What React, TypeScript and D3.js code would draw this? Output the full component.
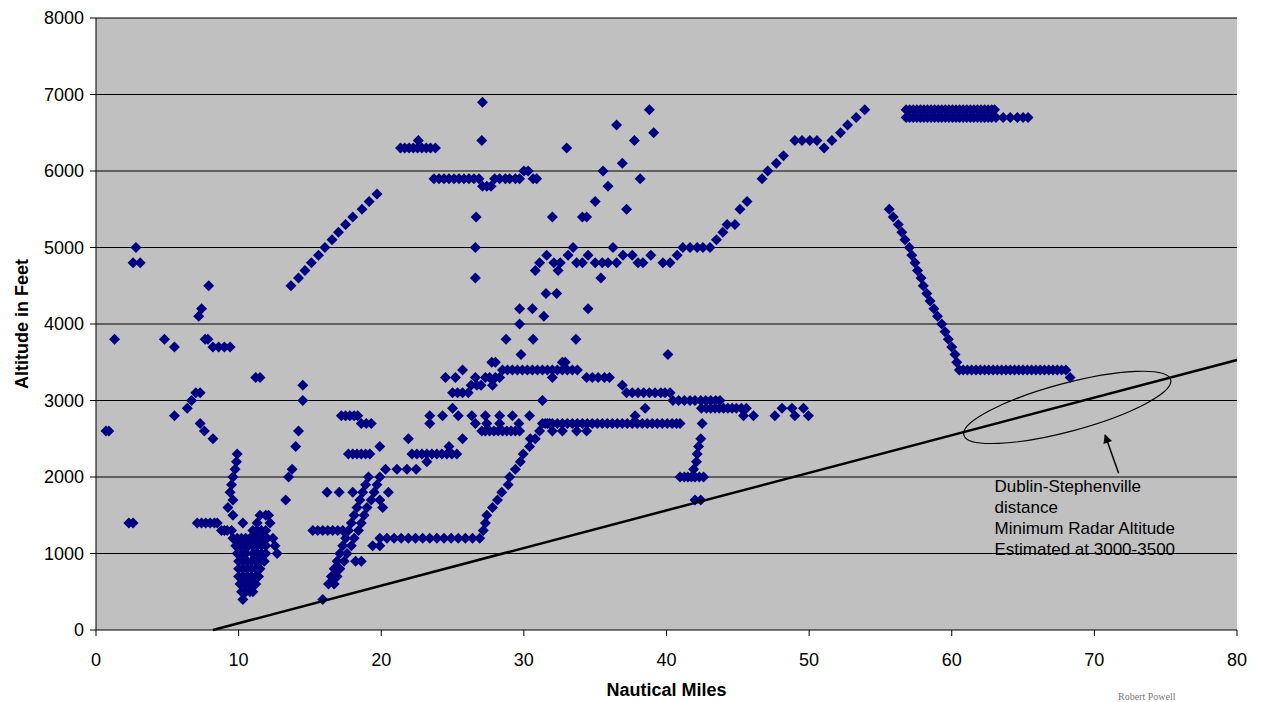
import React from "react";
import * as d3 from "d3";

type P = [number, number];

const xTicks = [0, 10, 20, 30, 40, 50, 60, 70, 80];
const yTicks = [0, 1000, 2000, 3000, 4000, 5000, 6000, 7000, 8000];

const westPoints: P[] = [
  [0.7, 2600], [0.9, 2600], [1.3, 3800], [2.3, 1400], [2.6, 1400], [2.6, 4800], [2.8, 5000], [3.1, 4800],
  [4.8, 3800], [5.5, 3700], [5.5, 2800], [6.4, 2900], [6.7, 3000], [7.0, 3100], [7.3, 3100], [7.3, 2700],
  [7.6, 2600], [8.2, 2500], [7.2, 4100], [7.4, 4200], [7.9, 4500], [7.65, 3800], [7.85, 3800], [8.2, 3700],
  [8.6, 3700], [9.0, 3700], [9.4, 3700], [11.2, 3300], [11.5, 3300],
  [9.9, 2300], [9.85, 2200], [9.75, 2100], [9.6, 2000], [9.5, 1900], [9.4, 1800], [9.6, 1700], [9.25, 1600],
  [9.6, 1500], [10.3, 1400], [7.1, 1400], [7.4, 1400], [7.7, 1400], [8.0, 1400], [8.3, 1400], [8.5, 1400],
  [8.8, 1300], [9.0, 1300],
];

const clusterPoints: P[] = [
  [9.2, 1300], [9.5, 1300], [11.0, 1300], [11.3, 1300], [11.6, 1300], [11.9, 1300],
  [9.6, 1200], [9.9, 1200], [10.2, 1200], [10.5, 1200], [10.8, 1200], [11.1, 1200], [11.4, 1200], [11.7, 1200], [12.0, 1200], [12.4, 1200],
  [9.8, 1100], [10.1, 1100], [10.4, 1100], [10.7, 1100], [11.0, 1100], [11.3, 1100], [11.6, 1100], [11.9, 1100], [12.55, 1100],
  [9.9, 1000], [10.2, 1000], [10.5, 1000], [11.0, 1000], [11.3, 1000], [11.6, 1000], [11.9, 1000], [12.7, 1000],
  [10.0, 900], [10.3, 900], [10.6, 900], [10.9, 900], [11.2, 900], [11.5, 900], [11.8, 900],
  [10.0, 800], [10.3, 800], [10.6, 800], [10.9, 800], [11.2, 800], [11.5, 800],
  [10.0, 700], [10.3, 700], [10.6, 700], [10.9, 700], [11.2, 700], [11.4, 700],
  [10.1, 600], [10.4, 600], [10.7, 600], [11.0, 600], [11.2, 600],
  [10.2, 500], [10.5, 500], [10.8, 500], [11.0, 500], [10.3, 400],
  [11.5, 1500], [11.9, 1500], [12.1, 1500], [11.3, 1400], [12.2, 1400],
];

const climbDiagonal: P[] = [
  [13.67, 4500], [14.2, 4600], [14.65, 4700], [15.1, 4800], [15.6, 4900], [16.05, 5000], [16.55, 5100],
  [17.0, 5200], [17.5, 5300], [18.0, 5400], [18.65, 5500], [19.15, 5600], [19.7, 5700],
];

const midPoints: P[] = [
  [13.3, 1700], [13.5, 2000], [13.75, 2100], [14.0, 2400], [14.2, 2600], [14.5, 3000], [14.5, 3200],
  [15.2, 1300], [15.55, 1300], [15.9, 1300], [16.25, 1300], [16.6, 1300], [16.95, 1300], [17.3, 1300],
  [16.2, 1800], [17.05, 1800], [18.0, 1800],
  [17.2, 2800], [17.5, 2800], [17.8, 2800], [18.1, 2800], [18.35, 2800], [18.6, 2700], [18.95, 2700], [19.3, 2700],
  [17.7, 2300], [18.0, 2300], [18.3, 2300], [18.6, 2300], [18.9, 2300], [19.2, 2300], [19.9, 2400],
  [18.2, 900], [18.6, 900], [19.4, 1100], [19.9, 1100], [19.9, 1700], [20.5, 1800], [20.1, 1600],
];

const ascentBandA: P[] = [
  [15.9, 400], [16.3, 600], [16.5, 700], [16.7, 800], [16.9, 900], [17.1, 1000], [17.3, 1100], [17.5, 1200],
  [17.7, 1300], [17.9, 1400], [18.1, 1500], [18.3, 1600], [18.5, 1700], [18.7, 1800], [18.9, 1900], [19.1, 2000],
];

const ascentBandB: P[] = [
  [16.7, 600], [16.9, 700], [17.1, 800], [17.4, 900], [17.6, 1000], [17.9, 1100], [18.1, 1200], [18.4, 1300],
  [18.6, 1400], [18.8, 1500], [19.0, 1600], [19.3, 1700], [19.5, 1800], [19.7, 1900], [19.9, 2000], [20.3, 2100],
];

const row1200: P[] = [
  [19.9, 1200], [20.4, 1200], [20.9, 1200], [21.4, 1200], [21.9, 1200], [22.4, 1200], [22.9, 1200], [23.4, 1200],
  [23.9, 1200], [24.4, 1200], [24.9, 1200], [25.4, 1200], [25.9, 1200], [26.4, 1200], [26.9, 1200],
];

const centralPoints: P[] = [
  [21.1, 2100], [21.8, 2100], [22.45, 2100], [21.9, 2500],
  [22.15, 2300], [22.5, 2300], [22.85, 2300], [23.2, 2300], [23.55, 2300], [23.9, 2300], [24.25, 2300], [24.6, 2300], [24.95, 2300], [25.3, 2300],
  [23.2, 2200], [23.4, 2800], [23.4, 2700], [24.3, 2800], [25.0, 2900], [25.4, 2800], [25.7, 2500], [24.75, 2400],
  [24.5, 3300], [25.2, 3300], [25.7, 3400],
  [25.0, 3100], [25.35, 3100], [25.7, 3100], [26.1, 3100],
  [26.3, 3200], [26.7, 3200], [27.0, 3200], [27.8, 3200],
  [26.6, 3300], [27.3, 3300], [27.6, 3300], [28.0, 3300], [28.3, 3300], [27.75, 3500], [28.0, 3500],
  [26.35, 2800], [27.3, 2800], [28.3, 2800], [29.2, 2800], [30.4, 2800],
  [26.6, 2700], [27.4, 2700], [28.3, 2700], [29.65, 2700],
  [27.05, 2600], [27.3, 2600], [27.6, 2600], [27.9, 2600], [28.2, 2600], [28.5, 2600], [28.8, 2600], [29.1, 2600], [29.4, 2600], [29.7, 2600],
];

const ascent27: P[] = [
  [27.15, 1300], [27.3, 1400], [27.4, 1500], [27.8, 1600], [28.15, 1700], [28.45, 1800], [28.9, 1900], [29.0, 2000],
  [29.4, 2100], [29.75, 2200], [29.95, 2300], [30.4, 2400], [30.45, 2500], [30.8, 2500], [31.1, 2600], [31.5, 2700], [31.8, 2700],
];

const row3400: P[] = [
  [28.5, 3400], [28.85, 3400], [29.2, 3400], [29.55, 3400], [29.9, 3400], [30.25, 3400], [30.6, 3400], [30.95, 3400],
  [31.3, 3400], [31.65, 3400], [32.0, 3400], [32.35, 3400], [32.7, 3400], [33.05, 3400], [33.4, 3400], [33.75, 3400],
  [32.7, 3500], [32.9, 3500], [32.0, 3300],
  [34.4, 3300], [34.8, 3300], [35.2, 3300], [35.65, 3300], [36.0, 3300], [36.9, 3200],
  [37.2, 3100], [37.6, 3100], [38.0, 3100], [38.4, 3100], [38.8, 3100], [39.2, 3100], [39.6, 3100], [39.9, 3100], [40.25, 3100],
  [31.3, 3000], [40.45, 3000], [40.85, 3000], [41.25, 3000], [41.65, 3000], [42.0, 3000], [42.4, 3000], [42.75, 3000], [43.1, 3000], [43.45, 3000], [43.75, 3000],
  [38.5, 2900], [42.45, 2900], [42.8, 2900], [43.1, 2900], [43.4, 2900], [43.7, 2900], [44.0, 2900], [44.3, 2900], [44.6, 2900], [44.9, 2900], [45.25, 2900], [45.6, 2900],
  [45.4, 2800], [46.1, 2800], [47.6, 2800], [49.0, 2800], [49.95, 2800], [37.8, 2800],
  [48.1, 2900], [48.8, 2900], [49.6, 2900],
];

const row2700: P[] = [
  [31.3, 2700], [31.65, 2700], [32.0, 2700], [32.35, 2700], [32.7, 2700], [33.05, 2700], [33.4, 2700], [33.75, 2700],
  [34.1, 2700], [34.45, 2700], [34.8, 2700], [35.15, 2700], [35.5, 2700], [35.85, 2700], [36.2, 2700], [36.55, 2700],
  [36.9, 2700], [37.25, 2700], [37.6, 2700], [37.95, 2700], [38.3, 2700], [38.65, 2700], [39.0, 2700], [39.35, 2700],
  [39.7, 2700], [40.05, 2700], [40.4, 2700], [40.7, 2700], [40.95, 2700], [42.5, 2700],
  [32.0, 2600], [32.7, 2600], [33.7, 2600], [34.4, 2600],
  [42.4, 2500], [42.25, 2400], [42.15, 2300], [42.1, 2200], [41.9, 2100],
  [40.95, 2000], [41.25, 2000], [41.5, 2000], [41.75, 2000], [42.0, 2000], [42.3, 2000], [42.6, 2000],
  [42.0, 1700], [42.4, 1700],
];

const scatterHigh: P[] = [
  [29.8, 3600], [40.1, 3600], [28.75, 3800], [30.65, 3800], [33.65, 3800], [29.7, 4000], [31.4, 4100],
  [29.7, 4200], [30.6, 4200], [34.5, 4200], [31.55, 4400], [32.3, 4400], [26.6, 4600], [35.4, 4600],
  [26.6, 5000], [26.65, 5400], [32.0, 5400], [34.1, 5400], [34.4, 5400], [37.2, 5500], [35.0, 5600],
  [35.9, 5800], [38.15, 5900], [35.55, 6000], [36.9, 6100], [33.0, 6300], [27.05, 6400], [37.75, 6400],
  [39.1, 6500], [36.5, 6600], [38.8, 6800], [27.1, 6900],
];

const climb4800: P[] = [
  [30.8, 4700], [31.1, 4800], [31.6, 4900], [32.1, 4800], [32.4, 4700], [32.55, 4800], [33.1, 4900], [33.45, 5000],
  [33.7, 4800], [34.1, 4800], [34.5, 4900], [35.0, 4800], [35.5, 4800], [35.9, 4800], [36.25, 5000], [36.5, 4800],
  [36.95, 4900], [37.6, 4900], [38.0, 4800], [38.35, 4800], [38.9, 4900], [39.75, 4800], [40.25, 4800], [40.75, 4900],
  [41.15, 5000], [41.65, 5000], [42.15, 5000], [42.55, 5000], [43.05, 5000], [43.5, 5100], [43.95, 5200],
  [44.25, 5300], [44.8, 5300], [45.15, 5500], [45.65, 5600], [46.7, 5900], [47.1, 6000], [47.7, 6100], [48.2, 6200],
  [49.0, 6400], [49.5, 6400], [50.05, 6400], [50.55, 6400], [51.05, 6300], [51.6, 6400], [52.2, 6500], [52.7, 6600],
  [53.3, 6700], [53.9, 6800],
];

const cruise6300: P[] = [
  [21.35, 6300], [21.65, 6300], [21.95, 6300], [22.25, 6300], [22.55, 6300], [22.85, 6300], [23.15, 6300], [23.45, 6300], [23.8, 6300], [22.6, 6400],
  [23.7, 5900], [24.05, 5900], [24.4, 5900], [24.75, 5900], [25.1, 5900], [25.45, 5900], [25.8, 5900], [26.15, 5900], [26.5, 5900], [26.85, 5900],
  [27.1, 5800], [27.4, 5800], [27.7, 5800],
  [27.95, 5900], [28.3, 5900], [28.7, 5900], [29.0, 5900], [29.4, 5900], [29.7, 5900], [30.0, 6000], [30.3, 6000], [30.65, 5900], [30.9, 5900],
];

const cruise6800: P[] = [
  [56.8, 6800], [57.05, 6800], [57.3, 6800], [57.55, 6800], [57.8, 6800], [58.05, 6800], [58.3, 6800], [58.55, 6800],
  [58.8, 6800], [59.05, 6800], [59.3, 6800], [59.55, 6800], [59.8, 6800], [60.05, 6800], [60.3, 6800], [60.55, 6800],
  [60.8, 6800], [61.05, 6800], [61.3, 6800], [61.55, 6800], [61.8, 6800], [62.05, 6800], [62.3, 6800], [62.55, 6800],
  [62.8, 6800], [63.0, 6800],
  [56.8, 6700], [57.05, 6700], [57.3, 6700], [57.55, 6700], [57.8, 6700], [58.05, 6700], [58.3, 6700], [58.55, 6700],
  [58.8, 6700], [59.05, 6700], [59.3, 6700], [59.55, 6700], [59.8, 6700], [60.05, 6700], [60.3, 6700], [60.55, 6700],
  [60.8, 6700], [61.05, 6700], [61.3, 6700], [61.55, 6700], [61.8, 6700], [62.05, 6700], [62.3, 6700], [62.55, 6700],
  [62.8, 6700], [63.1, 6700], [63.6, 6700], [64.1, 6700], [64.6, 6700], [65.0, 6700], [65.35, 6700],
];

const descent: P[] = [
  [55.62, 5500], [55.9, 5400], [56.25, 5300], [56.5, 5200], [56.72, 5100], [57.03, 5000], [57.2, 4900], [57.42, 4800],
  [57.6, 4700], [57.85, 4600], [58.0, 4500], [58.25, 4400], [58.48, 4300], [58.75, 4200], [59.0, 4100], [59.3, 4000],
  [59.53, 3900], [59.76, 3800], [60.0, 3700], [60.23, 3600], [60.35, 3500], [60.53, 3400],
];

const row3400East: P[] = [
  [60.8, 3400], [61.1, 3400], [61.4, 3400], [61.7, 3400], [62.0, 3400], [62.3, 3400], [62.6, 3400], [62.9, 3400],
  [63.2, 3400], [63.5, 3400], [63.8, 3400], [64.1, 3400], [64.4, 3400], [64.7, 3400], [65.0, 3400], [65.3, 3400],
  [65.6, 3400], [65.9, 3400], [66.2, 3400], [66.5, 3400], [66.8, 3400], [67.1, 3400], [67.4, 3400], [67.7, 3400],
  [68.0, 3400], [68.3, 3300],
];

const radarLine: P[] = [[8.2, 0], [80, 3530]];
const ellipseCenter: P = [68.1, 2910];
const arrowFrom: P = [71.7, 2050];
const arrowTo: P = [70.75, 2550];
const noteLines = ["Dublin-Stephenville", "distance", "Minimum Radar Altitude", "Estimated at 3000-3500"];
const noteAnchor: P = [63.0, 1800];

const allPoints: P[] = [
  ...westPoints, ...clusterPoints, ...climbDiagonal, ...midPoints, ...ascentBandA, ...ascentBandB, ...row1200,
  ...centralPoints, ...ascent27, ...row3400, ...row2700, ...scatterHigh, ...climb4800, ...cruise6300,
  ...cruise6800, ...descent, ...row3400East,
];

const W = 1261;
const H = 702;
const L = 96, R = 1237, T = 18, B = 630;

export default function App() {
  const x = d3.scaleLinear().domain([0, 80]).range([L, R]);
  const y = d3.scaleLinear().domain([0, 8000]).range([B, T]);
  const line = d3.line<P>().x((d) => x(d[0])).y((d) => y(d[1]));
  const font = "'Liberation Sans', Arial, sans-serif";
  const diamond = "M0,-5.5L5.5,0L0,5.5L-5.5,0Z";
  return (
    <svg width={W} height={H} style={{ position: "absolute", left: 0, top: 0, background: "#fff" }}>
      <defs>
        <marker id="ah" viewBox="0 0 10 10" refX="9" refY="5" markerWidth="12" markerHeight="9" orient="auto" markerUnits="userSpaceOnUse">
          <path d="M0,0L10,5L0,10Z" fill="#000" />
        </marker>
      </defs>
      <rect x={L} y={T} width={R - L} height={B - T} fill="#C0C0C0" />
      {yTicks.filter((t) => t > 0).map((t) => (
        <line key={"g" + t} x1={L} x2={R} y1={y(t)} y2={y(t)} stroke="#000" strokeWidth={1} />
      ))}
      <line x1={L} x2={L} y1={T} y2={B} stroke="#000" strokeWidth={1} />
      <line x1={L} x2={R} y1={B} y2={B} stroke="#000" strokeWidth={1} />
      {yTicks.map((t) => (
        <g key={"y" + t}>
          <line x1={L - 6} x2={L} y1={y(t)} y2={y(t)} stroke="#000" />
          <text x={84} y={y(t)} dy="0.36em" textAnchor="end" fontFamily={font} fontSize={18}>{t}</text>
        </g>
      ))}
      {xTicks.map((t) => (
        <g key={"x" + t}>
          <line x1={x(t)} x2={x(t)} y1={B} y2={B + 6} stroke="#000" />
          <text x={x(t)} y={666} textAnchor="middle" fontFamily={font} fontSize={18}>{t}</text>
        </g>
      ))}
      <text transform={`translate(28,${(T + B) / 2}) rotate(-90)`} textAnchor="middle" fontFamily={font} fontSize={18} fontWeight="bold">Altitude in Feet</text>
      <text x={(L + R) / 2} y={696} textAnchor="middle" fontFamily={font} fontSize={18} fontWeight="bold">Nautical Miles</text>
      {allPoints.map((d, i) => (
        <path key={i} d={diamond} transform={`translate(${x(d[0])},${y(d[1])})`} fill="#000080" />
      ))}
      <path d={line(radarLine) || ""} stroke="#000" strokeWidth={2.5} fill="none" />
      <ellipse cx={0} cy={0} rx={107} ry={24} fill="none" stroke="#000" strokeWidth={1.2}
        transform={`translate(${x(ellipseCenter[0])},${y(ellipseCenter[1])}) rotate(-15)`} />
      <line x1={x(arrowFrom[0])} y1={y(arrowFrom[1])} x2={x(arrowTo[0])} y2={y(arrowTo[1])} stroke="#000" strokeWidth={1.5} markerEnd="url(#ah)" />
      <text fontFamily={font} fontSize={17} fill="#000">
        {noteLines.map((s, i) => (
          <tspan key={i} x={x(noteAnchor[0])} y={492 + i * 21}>{s}</tspan>
        ))}
      </text>
      <text x={1118} y={700} fontFamily="'Liberation Serif', serif" fontSize={10} fill="#777">Robert Powell</text>
    </svg>
  );
}
